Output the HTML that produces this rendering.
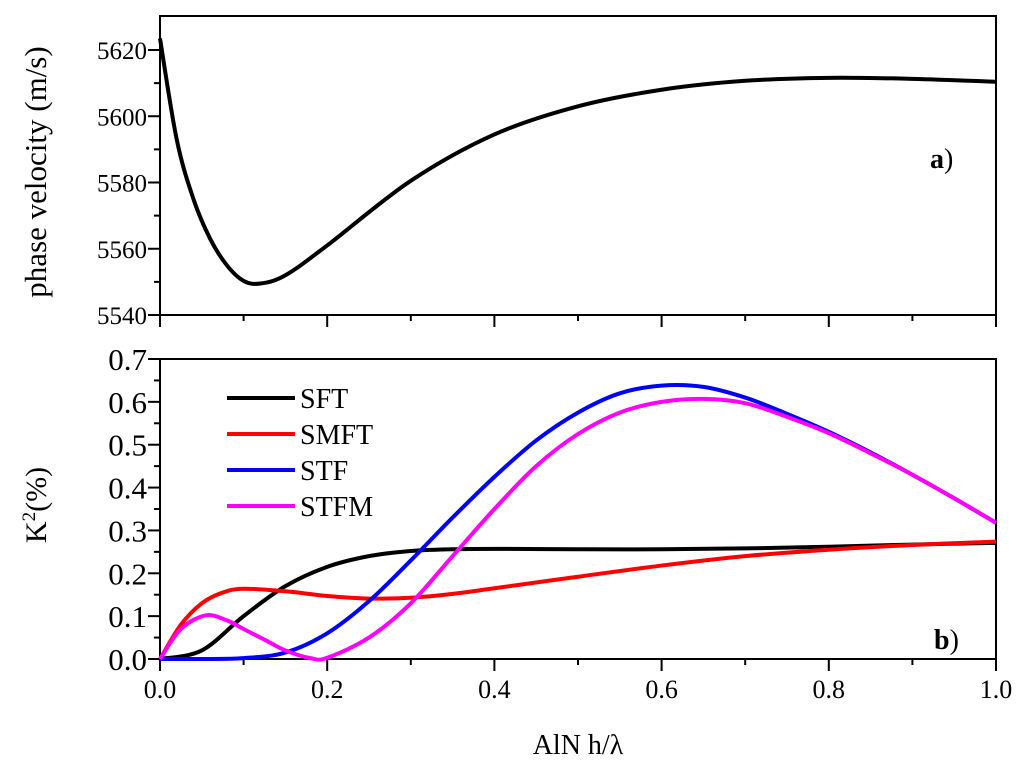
<!DOCTYPE html>
<html><head><meta charset="utf-8"><style>
body{margin:0;background:#fff}
svg text{font-family:"Liberation Serif",serif;fill:#000}
</style></head><body>
<svg id="c" width="1024" height="762" xmlns="http://www.w3.org/2000/svg"></svg>
<script>
const xs=[0,0.02,0.04,0.06,0.08,0.1,0.12,0.15,0.2,0.3,0.4,0.5,0.6,0.7,0.8,0.9,1.0];
const vel=[5623.5,5593,5575,5563,5555,5550.3,5549.5,5552,5561,5580.5,5594.5,5603,5608,5610.7,5611.6,5611.3,5610.4];
const sftX=[0,0.05,0.1,0.15,0.2,0.25,0.3,0.35,0.4,0.5,0.6,0.7,0.8,0.9,1.0];
const sftY=[0,0.02,0.1,0.17,0.215,0.24,0.252,0.256,0.257,0.256,0.256,0.258,0.262,0.267,0.271];
const smftX=[0,0.025,0.05,0.075,0.1,0.15,0.2,0.25,0.3,0.35,0.4,0.5,0.6,0.7,0.8,0.9,1.0];
const smftY=[0,0.08,0.13,0.155,0.164,0.158,0.147,0.141,0.143,0.152,0.165,0.192,0.218,0.24,0.255,0.266,0.274];
const stfX=[0,0.05,0.1,0.15,0.2,0.25,0.3,0.35,0.4,0.45,0.5,0.55,0.6,0.65,0.7,0.75,0.8,0.85,0.9,0.95,1.0];
const stfY=[0,0,0.002,0.015,0.06,0.135,0.23,0.33,0.425,0.51,0.575,0.62,0.638,0.635,0.61,0.572,0.53,0.482,0.43,0.375,0.318];
const stfmX=[0,0.025,0.055,0.08,0.1,0.125,0.15,0.18,0.2,0.25,0.3,0.35,0.4,0.45,0.5,0.55,0.6,0.65,0.7,0.75,0.8,0.85,0.9,0.95,1.0];
const stfmY=[0,0.07,0.102,0.09,0.07,0.045,0.02,0.002,0.003,0.05,0.13,0.24,0.35,0.45,0.525,0.575,0.6,0.607,0.597,0.565,0.527,0.48,0.43,0.375,0.318];
const xTicks=["0.0","0.2","0.4","0.6","0.8","1.0"];
const velTicks=[5540,5560,5580,5600,5620];
const kTicks=["0.0","0.1","0.2","0.3","0.4","0.5","0.6","0.7"];
const legendNames=["SFT","SMFT","STF","STFM"];
const colors=["#000","#f00","#00f","#f0f"];

const svg=document.getElementById('c');
const NS="http://www.w3.org/2000/svg";
const L=160,R=996;
const X=v=>L+v*(R-L);
const Yv=v=>315-(v-5540)*(315-50)/80;
const Yk=v=>659-v*(659-359)/0.7;
function mk(t,a,p){const e=document.createElementNS(NS,t);for(const k in a)e.setAttribute(k,a[k]);(p||svg).appendChild(e);return e;}
function path(xa,ya,fy){
  const pts=xa.map((x,i)=>[X(x),fy(ya[i])]);
  let d="M"+pts[0][0]+","+pts[0][1];
  for(let i=0;i<pts.length-1;i++){
    const p0=pts[Math.max(i-1,0)],p1=pts[i],p2=pts[i+1],p3=pts[Math.min(i+2,pts.length-1)];
    const c1=[p1[0]+(p2[0]-p0[0])/6,p1[1]+(p2[1]-p0[1])/6];
    const c2=[p2[0]-(p3[0]-p1[0])/6,p2[1]-(p3[1]-p1[1])/6];
    d+=` C${c1[0]},${c1[1]} ${c2[0]},${c2[1]} ${p2[0]},${p2[1]}`;
  }
  return d;
}
let f=mk('rect',{x:L,y:16,width:R-L,height:299,fill:'none',stroke:'#000','stroke-width':2});

f=mk('rect',{x:L,y:359,width:R-L,height:300,fill:'none',stroke:'#000','stroke-width':2});

for(let v=5540;v<=5620;v+=10){const maj=v%20===0;const t=mk('line',{x1:L-(maj?12:6),x2:L,y1:Yv(v),y2:Yv(v),stroke:'#000','stroke-width':2});
}
velTicks.forEach(v=>{const t=mk('text',{x:L-13,y:Yv(v)+9,'text-anchor':'end','font-size':25});t.textContent=v;
});
for(let i=0;i<=14;i++){const v=i*0.05;const maj=i%2===0;const t=mk('line',{x1:L-(maj?12:6),x2:L,y1:Yk(v),y2:Yk(v),stroke:'#000','stroke-width':2});
}
kTicks.forEach(s=>{const t=mk('text',{x:L-13,y:Yk(+s)+11,'text-anchor':'end','font-size':31});t.textContent=s;
});
for(let i=0;i<=10;i++){const v=i*0.1;const maj=i%2===0;
 let t=mk('line',{x1:X(v),x2:X(v),y1:315,y2:315+(maj?12:6),stroke:'#000','stroke-width':2});
 
 t=mk('line',{x1:X(v),x2:X(v),y1:659,y2:659+(maj?12:6),stroke:'#000','stroke-width':2});
 }
xTicks.forEach(s=>{const t=mk('text',{x:X(+s),y:698,'text-anchor':'middle','font-size':26});t.textContent=s;
});
let c=mk('path',{d:path(xs,vel,Yv),fill:'none',stroke:'#000','stroke-width':4});

const series=[[sftX,sftY],[smftX,smftY],[stfX,stfY],[stfmX,stfmY]];
series.forEach((s,i)=>{const p=mk('path',{d:path(s[0],s[1],Yk),fill:'none',stroke:colors[i],'stroke-width':4});
});
legendNames.forEach((n,i)=>{const y=398+i*36;
 const l=mk('line',{x1:227,x2:295,y1:y,y2:y,stroke:colors[i],'stroke-width':4});
 
 const t=mk('text',{x:300,y:y+10,'font-size':28});t.textContent=n;
 });
let t=mk('text',{transform:'translate(46,172) rotate(-90)','text-anchor':'middle','font-size':31});t.textContent='phase velocity (m/s)';

t=mk('text',{transform:'translate(46,505) rotate(-90)','text-anchor':'middle','font-size':30});
t.innerHTML='K<tspan dy="-11" font-size="19">2</tspan><tspan dy="11">(%)</tspan>';

t=mk('text',{x:578,y:754,'text-anchor':'middle','font-size':28});t.textContent='AlN h/λ';

t=mk('text',{x:930,y:168,'font-size':28});t.innerHTML='<tspan font-weight="bold">a</tspan>)';

t=mk('text',{x:934,y:649,'font-size':28});t.innerHTML='<tspan font-weight="bold">b</tspan>)';

</script>
</body></html>
